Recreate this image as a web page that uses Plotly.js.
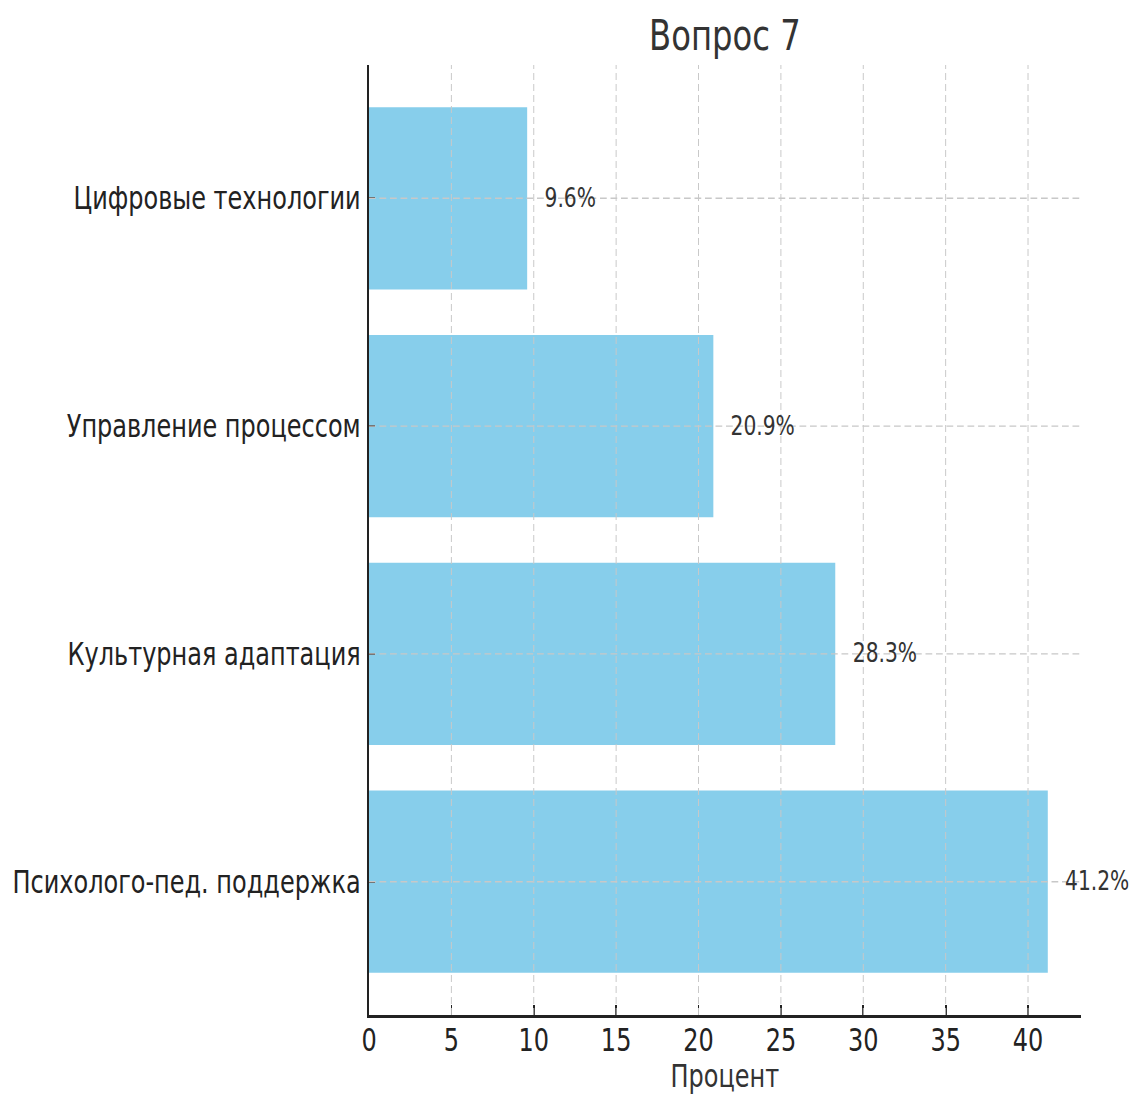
<!DOCTYPE html>
<html>
<head>
<meta charset="utf-8">
<script src="https://cdn.plot.ly/plotly-3.0.1.min.js"></script>
<style>
  html, body { margin: 0; padding: 0; background: #fff; overflow: hidden; width: 1129px; height: 1095px; }
  #chart { width: 1505px; height: 1095px; transform: scaleX(0.75); transform-origin: 0 0; }
</style>
</head>
<body>
<div id="chart"></div>
<script>
const categories = ["Психолого-пед. поддержка", "Культурная адаптация", "Управление процессом", "Цифровые технологии"];
const values = [41.2, 28.3, 20.9, 9.6];
const labels = ["41.2%", "28.3%", "20.9%", "9.6%"];
const xTicks = [0, 5, 10, 15, 20, 25, 30, 35, 40];

const FONT = "DejaVu Sans";

const trace = {
  type: "bar",
  orientation: "h",
  x: values,
  y: categories,
  width: 0.8,
  marker: { color: "#87CEEB", line: { width: 0 } },
  hoverinfo: "skip"
};

const shapes = [];
xTicks.filter(v => v > 0).forEach(v => {
  shapes.push({ type: "line", layer: "above", xref: "x", yref: "paper", x0: v, x1: v, y0: 0, y1: 1,
    line: { color: "#c8c8c8", width: 1.3, dash: "7px,4px" } });
});
categories.forEach(c => {
  shapes.push({ type: "line", layer: "above", xref: "paper", yref: "y", x0: 0, x1: 1, y0: c, y1: c,
    line: { color: "#c8c8c8", width: 1.3, dash: "9px,5px" } });
});

const annotations = categories.map((c, i) => ({
  x: values[i], y: c, xref: "x", yref: "y", text: labels[i], showarrow: false,
  xanchor: "left", yanchor: "middle", xshift: 21, yshift: 1,
  font: { family: FONT, size: 27, color: "#333333" }
}));

const layout = {
  width: 1505, height: 1095,
  margin: { l: 492, r: 64, t: 65, b: 80, pad: 0 },
  paper_bgcolor: "#ffffff", plot_bgcolor: "#ffffff",
  showlegend: false,
  title: { text: "Вопрос 7", x: 0.5, xref: "paper", xanchor: "center", y: 0.968, yref: "container", yanchor: "middle",
    font: { family: FONT, size: 43, color: "#333333" } },
  xaxis: {
    range: [0, 43.2], tickvals: xTicks, ticktext: xTicks.map(String),
    showgrid: false, zeroline: false, automargin: false,
    showline: true, linecolor: "#222222", linewidth: 2.5, mirror: false,
    ticks: "inside", ticklen: 10, tickwidth: 2.3, tickcolor: "#222222",
    ticklabelstandoff: -5,
    tickfont: { family: FONT, size: 32, color: "#222222" },
    title: { text: "Процент", standoff: 25, font: { family: FONT, size: 32, color: "#333333" } }
  },
  yaxis: {
    type: "category", categoryorder: "array", categoryarray: categories,
    range: [-0.585, 3.585],
    showgrid: false, zeroline: false,
    showline: true, linecolor: "#222222", linewidth: 2.7,
    ticks: "inside", ticklen: 8, tickwidth: 2.3, tickcolor: "#222222",
    ticklabelstandoff: 2,
    tickfont: { family: FONT, size: 32, color: "#222222" }
  },
  shapes: shapes,
  annotations: annotations
};

Plotly.newPlot("chart", [trace], layout, { displayModeBar: false, staticPlot: true });
</script>
</body>
</html>
